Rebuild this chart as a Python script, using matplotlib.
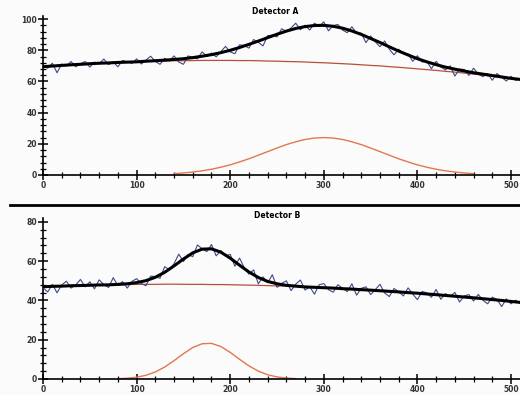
import matplotlib.pyplot as plt
from matplotlib.lines import Line2D
from matplotlib.ticker import MultipleLocator

# x grids
x_data = list(range(0, 511, 5))
x_fit = list(range(0, 511, 10))

# Detector A
data_a = [69.8, 68.5, 71.7, 65.6, 71.2, 69.9, 72.8, 69.4, 71.4, 72.8,
          69.2, 72.4, 71.4, 74.4, 70.8, 72.6, 69.4, 73.5, 72.6, 71.6,
          74.5, 71.2, 73.7, 76.2, 72.9, 71.0, 74.8, 73.2, 76.4, 72.5,
          71.0, 76.4, 75.4, 74.5, 79.0, 76.2, 78.2, 75.8, 79.1, 82.5,
          79.0, 77.8, 83.5, 83.1, 81.4, 86.9, 85.1, 82.8, 89.4, 89.7,
          88.6, 93.8, 92.1, 94.3, 97.4, 93.2, 96.1, 93.0, 97.4, 95.4,
          98.2, 92.5, 95.8, 96.6, 93.0, 91.3, 95.1, 91.0, 91.0, 84.9,
          89.2, 85.4, 82.3, 86.0, 80.7, 77.1, 80.7, 77.9, 77.7, 72.9,
          76.5, 72.5, 72.9, 68.2, 72.9, 69.3, 67.4, 70.0, 63.5, 67.9,
          67.7, 63.9, 68.5, 64.7, 63.1, 65.1, 60.8, 65.1, 62.7, 60.3,
          63.3, 60.7, 61.7]
fit_a = [69.5, 69.9, 70.3, 70.7, 71.0, 71.4, 71.7, 71.9, 72.2, 72.4,
         72.6, 73.0, 73.3, 73.7, 74.1, 74.6, 75.3, 76.2, 77.2, 78.5,
         80.0, 81.8, 83.8, 85.9, 88.1, 90.3, 92.3, 94.0, 95.2, 95.9,
         96.0, 95.4, 94.2, 92.4, 90.2, 87.6, 85.0, 82.2, 79.5, 77.0,
         74.6, 72.6, 70.8, 69.2, 67.9, 66.7, 65.6, 64.7, 63.8, 62.9,
         62.0, 61.3]
base_a = [69.5, 69.9, 70.3, 70.7, 71.0, 71.4, 71.7, 71.9, 72.2, 72.4,
          72.6, 72.8, 73.0, 73.1, 73.3, 73.3, 73.4, 73.5, 73.5, 73.5,
          73.5, 73.4, 73.4, 73.3, 73.1, 73.0, 72.8, 72.7, 72.5, 72.2,
          72.0, 71.7, 71.4, 71.1, 70.7, 70.3, 70.0, 69.5, 69.1, 68.6,
          68.1, 67.6, 67.1, 66.5, 66.0, 65.4, 64.7, 64.1, 63.4, 62.7,
          62.0, 61.3]
x_peak_a = list(range(140, 461, 10))
peak_a = [0.86, 1.3, 1.9, 2.7, 3.7, 5.0, 6.5, 8.4, 10.4, 12.7, 15.0,
          17.3, 19.5, 21.3, 22.8, 23.7, 24.0, 23.7, 22.8, 21.3, 19.5,
          17.3, 15.0, 12.7, 10.4, 8.4, 6.5, 5.0, 3.7, 2.7, 1.9, 1.3, 0.86]

# Detector B
data_b = [46.5, 44.3, 48.2, 43.9, 47.9, 49.8, 46.3, 47.9, 50.7, 46.9,
          49.5, 45.9, 50.5, 48.1, 46.6, 51.6, 47.6, 49.6, 46.3, 49.7,
          51.1, 48.6, 47.5, 52.4, 52.2, 51.3, 57.2, 55.7, 58.7, 63.6,
          59.8, 63.4, 62.3, 68.3, 66.3, 64.9, 68.5, 62.7, 65.4, 62.7,
          63.5, 57.4, 61.6, 56.7, 53.4, 55.6, 48.5, 52.0, 49.0, 53.1,
          46.7, 48.7, 50.0, 45.0, 48.3, 50.4, 45.3, 47.0, 43.2, 48.0,
          48.6, 45.5, 44.2, 48.0, 46.3, 44.5, 48.5, 42.7, 46.2, 46.9,
          43.0, 45.5, 48.2, 43.8, 42.0, 46.1, 44.4, 42.3, 46.4, 43.3,
          40.4, 44.6, 43.9, 41.6, 45.6, 40.6, 43.5, 42.1, 44.1, 39.2,
          42.3, 43.0, 39.7, 43.1, 40.1, 38.3, 41.7, 40.5, 36.9, 40.8,
          38.3, 40.1, 38.5]
fit_b = [47.0, 47.2, 47.3, 47.5, 47.6, 47.75, 47.9, 47.95, 48.2, 48.5,
         49.1, 50.1, 51.8, 54.35, 57.6, 61.1, 64.25, 66.15, 66.3, 64.6,
         61.55, 57.95, 54.5, 51.7, 49.7, 48.5, 47.7, 47.3, 46.9, 46.7,
         46.5, 46.3, 46.0, 45.8, 45.5, 45.25, 44.95, 44.65, 44.35, 44.0,
         43.7, 43.3, 42.95, 42.55, 42.15, 41.75, 41.35, 40.9, 40.45, 40.0,
         39.5, 39.0]
base_b = [47.0, 47.2, 47.3, 47.5, 47.6, 47.75, 47.9, 47.95, 48.0, 48.1,
          48.2, 48.2, 48.2, 48.3, 48.3, 48.25, 48.2, 48.2, 48.1, 48.1,
          48.0, 47.9, 47.8, 47.7, 47.55, 47.4, 47.3, 47.1, 46.9, 46.7,
          46.5, 46.3, 46.0, 45.8, 45.5, 45.25, 44.95, 44.65, 44.35, 44.0,
          43.7, 43.3, 42.95, 42.55, 42.15, 41.75, 41.35, 40.9, 40.45, 40.0,
          39.5, 39.0]
x_peak_b = list(range(80, 271, 10))
peak_b = [0.15, 0.39, 0.91, 1.90, 3.58, 6.09, 9.33, 12.87, 16.02, 17.96,
          18.15, 16.53, 13.56, 10.03, 6.68, 4.01, 2.17, 1.06, 0.47, 0.18]

fig = plt.figure(figsize=(5.2, 3.95), dpi=100)
fig.patch.set_facecolor('#fbfbfb')

ax_a = fig.add_axes([43 / 520, 220 / 395, 477 / 520, 159 / 395])
ax_b = fig.add_axes([43 / 520, 16 / 395, 477 / 520, 161 / 395])


def style(ax, ymax, ystep):
    ax.set_facecolor('none')
    ax.set_xlim(0, 509.6)
    ax.set_ylim(0, ymax)
    for s in ['top', 'right']:
        ax.spines[s].set_visible(False)
    for s in ['left', 'bottom']:
        ax.spines[s].set_linewidth(1.2)
    ax.xaxis.set_major_locator(MultipleLocator(100))
    ax.xaxis.set_minor_locator(MultipleLocator(20))
    ax.yaxis.set_major_locator(MultipleLocator(ystep))
    ax.yaxis.set_minor_locator(MultipleLocator(ystep / 5))
    ax.tick_params(which='major', direction='inout', length=7, width=1.1,
                   labelsize=5.5, pad=1)
    ax.tick_params(which='minor', direction='inout', length=4, width=0.9)
    for lab in ax.get_xticklabels() + ax.get_yticklabels():
        lab.set_fontweight('bold')
        lab.set_color('#333333')


for ax, xd, yd, yf, yb, xp, yp, ymax in [
        (ax_a, x_data, data_a, fit_a, base_a, x_peak_a, peak_a, 102),
        (ax_b, x_data, data_b, fit_b, base_b, x_peak_b, peak_b, 82)]:
    ax.plot(x_fit, yb, color='#b5503a', lw=0.9, zorder=2)
    ax.plot(xd, yd, color='#3c4a88', lw=0.8, zorder=3)
    ax.plot(x_fit, yf, color='black', lw=2.2, zorder=4)
    ax.plot(xp, yp, color='#e07850', lw=1.0, zorder=2)
    style(ax, ymax, 20)

fig.add_artist(Line2D([10 / 520, 1.0], [1 - 205 / 395] * 2, color='black',
                      lw=2.0, transform=fig.transFigure))

box = dict(facecolor='white', edgecolor='none', pad=1.0)
fig.text(275 / 520, 1 - 12 / 395, 'Detector A', ha='center', va='center',
         fontsize=5.5, fontweight='bold', bbox=box)
fig.text(277 / 520, 1 - 215 / 395, 'Detector B', ha='center', va='center',
         fontsize=5.5, fontweight='bold', bbox=box)

plt.savefig('out.png', dpi=100, facecolor=fig.get_facecolor())
plt.close()
